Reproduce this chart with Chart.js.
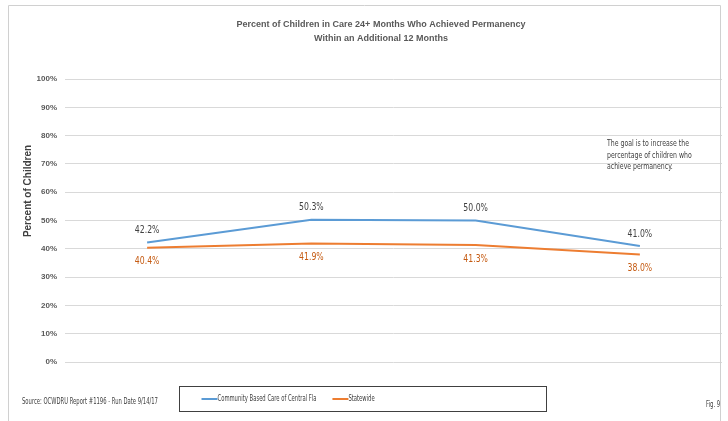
<!DOCTYPE html>
<html>
<head>
<meta charset="utf-8">
<script src="https://cdn.jsdelivr.net/npm/chart.js@4/dist/chart.umd.min.js"></script>
<style>
html, body { margin: 0; padding: 0; background: #fff; }
#wrap { width: 728px; height: 421px; position: relative; }
</style>
</head>
<body>
<div id="wrap"><canvas id="chart"></canvas></div>
<script>
// categories are not labelled in the source picture
const categories = ['Period 1', 'Period 2', 'Period 3', 'Period 4'];
const seriesNames = ['Community Based Care of Central Fla', 'Statewide'];
const cbcValues = [42.2, 50.3, 50.0, 41.0];
const statewideValues = [40.4, 41.9, 41.3, 38.0];
const yTicks = [0, 10, 20, 30, 40, 50, 60, 70, 80, 90, 100];
const titleLines = ['Percent of Children in Care 24+ Months Who Achieved Permanency', 'Within an Additional 12 Months'];
const yTitle = 'Percent of Children';
const noteLines = ['The goal is to increase the', 'percentage of children who', 'achieve permanency.'];
const sourceText = 'Source: OCWDRU Report #1196 - Run Date 9/14/17';
const figText = 'Fig. 9';

const NARROW = "'Liberation Sans Narrow', 'Arial Narrow', 'DejaVu Sans Condensed', sans-serif";
const ARIAL = "'Liberation Sans', Arial, sans-serif";
const BLUE = '#5b9bd5';
const ORANGE = '#ed7d31';

// the picture's small text is squeezed sideways, so draw it with a x-scale
function squeezed(ctx, text, x, y, sx) {
    ctx.save();
    ctx.translate(x, y);
    ctx.scale(sx, 1);
    ctx.fillText(text, 0, 0);
    ctx.restore();
    return ctx.measureText(text).width * sx;
}

const extras = {
    id: 'extras',
    afterDatasetsDraw(chart) {
        const ctx = chart.ctx;
        ctx.save();
        ctx.font = '10px ' + NARROW;
        ctx.textAlign = 'center';
        ctx.textBaseline = 'middle';
        chart.data.datasets.forEach((ds, i) => {
            const meta = chart.getDatasetMeta(i);
            meta.data.forEach((pt, j) => {
                const label = ds.data[j].toFixed(1) + '%';
                if (i === 0) {
                    ctx.fillStyle = '#404040';
                    squeezed(ctx, label, pt.x, pt.y - 12, 0.86);
                } else {
                    ctx.fillStyle = '#c55a11';
                    squeezed(ctx, label, pt.x, pt.y + 14, 0.86);
                }
            });
        });
        ctx.restore();
    },
    afterDraw(chart) {
        const ctx = chart.ctx;
        ctx.save();
        // outer frame
        ctx.strokeStyle = '#d0d0d0';
        ctx.lineWidth = 1;
        ctx.beginPath();
        ctx.moveTo(8.5, chart.height);
        ctx.lineTo(8.5, 5.5);
        ctx.lineTo(720.5, 5.5);
        ctx.lineTo(720.5, chart.height);
        ctx.stroke();

        // chart title (sits a bit right of the canvas centre in the picture)
        ctx.font = 'bold 9px ' + ARIAL;
        ctx.fillStyle = '#595959';
        ctx.textAlign = 'center';
        ctx.textBaseline = 'middle';
        titleLines.forEach((t, k) => ctx.fillText(t, 381, 25 + k * 14));

        // y axis title
        ctx.save();
        ctx.translate(28, 191);
        ctx.rotate(-Math.PI / 2);
        ctx.font = 'bold 10px ' + ARIAL;
        ctx.fillStyle = '#404040';
        ctx.fillText(yTitle, 0, 0);
        ctx.restore();

        // note
        ctx.fillStyle = '#404040';
        ctx.font = '8px ' + NARROW;
        ctx.textAlign = 'left';
        noteLines.forEach((t, k) => squeezed(ctx, t, 607, 144 + k * 11.5, 0.86));

        // source + fig
        squeezed(ctx, sourceText, 22, 402, 0.73);
        squeezed(ctx, figText, 706, 405, 0.73);

        // legend box
        const boxW = 367, boxH = 25;
        const boxL = 179.5;
        const boxT = 386.5;
        ctx.strokeStyle = '#404040';
        ctx.lineWidth = 1;
        ctx.strokeRect(boxL, boxT, boxW, boxH);
        const midY = boxT + boxH / 2;
        let x = boxL + 22;
        chart.data.datasets.forEach((ds) => {
            ctx.strokeStyle = ds.borderColor;
            ctx.lineWidth = 2;
            ctx.beginPath();
            ctx.moveTo(x, midY);
            ctx.lineTo(x + 16, midY);
            ctx.stroke();
            ctx.fillStyle = '#404040';
            const w = squeezed(ctx, ds.label, x + 16, midY, 0.73);
            x += 16 + w + 16;
        });
        ctx.restore();
    }
};

new Chart(document.getElementById('chart'), {
    type: 'line',
    data: {
        labels: categories,
        datasets: [
            { label: seriesNames[0], data: cbcValues, borderColor: BLUE, backgroundColor: BLUE, borderWidth: 2, pointRadius: 0, tension: 0 },
            { label: seriesNames[1], data: statewideValues, borderColor: ORANGE, backgroundColor: ORANGE, borderWidth: 2, pointRadius: 0, tension: 0 }
        ]
    },
    options: {
        responsive: true,
        maintainAspectRatio: false,
        animation: false,
        layout: { padding: { top: 79, left: 8, right: 6, bottom: 59 } },
        plugins: {
            legend: { display: false },
            tooltip: { enabled: false },
            title: { display: false }
        },
        scales: {
            x: { display: false, offset: true },
            y: {
                min: 0,
                max: 100,
                afterBuildTicks(scale) { scale.ticks = yTicks.map(v => ({ value: v })); },
                afterFit(scale) { scale.width = 57; },
                ticks: {
                    callback: v => v + '%',
                    color: '#595959',
                    padding: 8,
                    font: { family: ARIAL, size: 8, weight: 'bold' }
                },
                grid: { color: '#d9d9d9', drawTicks: false },
                border: { display: false }
            }
        }
    },
    plugins: [extras]
});
</script>
</body>
</html>
